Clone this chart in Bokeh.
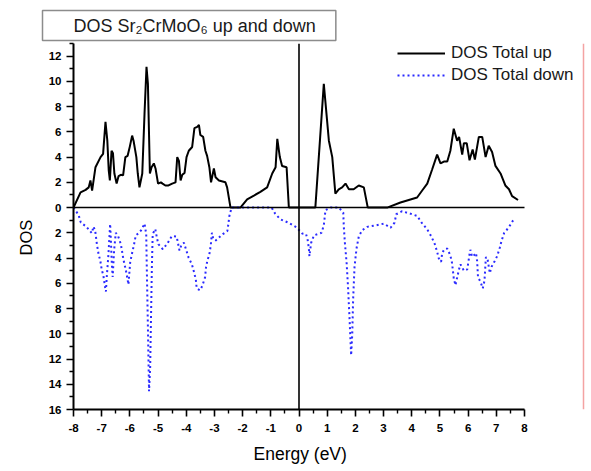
import math
from bokeh.plotting import figure
from bokeh.models import (Range1d, FixedTicker, Span, Title, Legend, LegendItem,
                          ColumnDataSource)
from bokeh.embed import file_html
from bokeh.resources import INLINE

# ---------------- data ----------------
up_energy = [-8.0, -7.75, -7.57, -7.46, -7.40, -7.34, -7.22, -7.04, -6.95, -6.865, -6.80, -6.75,
             -6.71, -6.65, -6.60, -6.55, -6.47, -6.40, -6.32, -6.24, -6.16, -6.08, -6.0, -5.92,
             -5.87, -5.77, -5.72, -5.66, -5.56, -5.48, -5.41, -5.36, -5.29, -5.23, -5.15, -5.09,
             -5.0, -4.9, -4.84, -4.74, -4.63, -4.50, -4.38, -4.32, -4.26, -4.20, -4.14, -4.06,
             -3.99, -3.91, -3.79, -3.71, -3.61, -3.55, -3.50, -3.40, -3.32, -3.26, -3.18, -3.12,
             -3.02, -2.96, -2.84, -2.61, -2.55, -2.43, -2.08, -1.84, -1.60, -1.37, -1.13, -0.95,
             -0.83, -0.77, -0.68, -0.60, -0.44, -0.36, 0.58, 0.88, 1.06, 1.18, 1.29, 1.41,
             1.53, 1.65, 1.77, 1.94, 2.12, 2.30, 2.44, 3.13, 3.60, 4.19, 4.37, 4.55, 4.72,
             4.90, 5.02, 5.14, 5.26, 5.37, 5.49, 5.61, 5.68, 5.79, 5.85, 5.95, 6.05, 6.16,
             6.24, 6.38, 6.50, 6.62, 6.73, 6.85, 6.97, 7.15, 7.32, 7.45, 7.56, 7.77]
up_dos = [0.0, 1.2, 1.4, 1.6, 2.15, 1.35, 3.2, 4.0, 4.25, 6.8, 5.3, 2.95,
          2.15, 4.5, 4.3, 2.7, 1.9, 2.5, 2.6, 2.55, 4.0, 4.1, 4.85, 5.7,
          5.3, 4.0, 2.7, 1.6, 2.7, 7.45, 11.15, 9.8, 2.7, 3.2, 3.5, 3.1,
          1.9, 2.0, 1.9, 1.75, 1.75, 1.9, 2.0, 4.0, 3.7, 2.15, 2.6, 2.75,
          4.0, 4.5, 4.8, 6.3, 6.4, 6.55, 5.75, 5.6, 4.5, 4.1, 3.2, 2.0,
          3.1, 2.4, 2.15, 2.0, 1.6, 0.0, 0.0, 0.65, 0.95, 1.25, 1.6, 2.7,
          3.2, 5.45, 4.0, 3.3, 3.2, 0.0, 0.0, 9.8, 5.3, 4.0, 1.1, 1.45,
          1.6, 1.9, 1.45, 1.45, 1.75, 1.6, 0.0, 0.0, 0.4, 0.8, 1.35, 1.9, 3.0,
          4.2, 3.5, 3.65, 3.65, 4.5, 6.25, 5.3, 5.6, 4.2, 5.1, 5.1, 3.75, 4.6,
          3.8, 5.6, 5.6, 4.0, 4.9, 4.4, 3.3, 2.7, 1.75, 1.45, 0.9, 0.6]

down_energy = [-8.0, -7.82, -7.74, -7.55, -7.35, -7.29, -7.23, -7.17, -7.11, -7.05, -7.0, -6.94,
               -6.88, -6.85, -6.82, -6.76, -6.70, -6.67, -6.64, -6.61, -6.56, -6.50, -6.42,
               -6.32, -6.23, -6.13, -6.05, -5.99, -5.93, -5.85, -5.79, -5.70, -5.60, -5.48,
               -5.42, -5.40, -5.36, -5.32, -5.28, -5.25, -5.22, -5.19, -5.10, -5.04, -4.99,
               -4.83, -4.67, -4.51, -4.34, -4.24, -4.16, -4.08, -3.92, -3.80, -3.72, -3.66,
               -3.63, -3.51, -3.43, -3.33, -3.30, -3.25, -3.18, -3.13, -3.09, -3.04, -2.95,
               -2.70, -2.54, -2.50, -2.47, -2.39, -0.97, -0.85, -0.67, -0.38, -0.08, 0.11,
               0.25, 0.31, 0.35, 0.37, 0.43, 0.53, 0.80, 0.88, 0.94, 1.12, 1.41, 1.57, 1.59,
               1.63, 1.69, 1.74, 1.79, 1.85, 1.89, 1.92, 1.97, 2.04, 2.12, 2.24, 2.42, 2.75,
               3.01, 3.25, 3.39, 3.45, 3.66, 3.93, 4.19, 4.35, 4.55, 4.69, 4.81, 4.90, 4.96,
               5.04, 5.08, 5.16, 5.26, 5.37, 5.43, 5.46, 5.49, 5.55, 5.61, 5.67, 5.73, 5.85,
               5.97, 6.05, 6.08, 6.14, 6.22, 6.28, 6.32, 6.35, 6.44, 6.52, 6.58, 6.63, 6.68,
               6.73, 6.77, 6.83, 6.93, 7.03, 7.12, 7.19, 7.28, 7.44, 7.60]
down_dos = [0.0, 0.58, 1.19, 1.5, 2.03, 1.5, 1.85, 2.9, 3.7, 4.2, 4.9, 5.4,
            6.3, 6.65, 5.5, 3.7, 1.3, 2.8, 4.5, 5.5, 3.4, 2.0, 2.25,
            2.9, 4.1, 5.1, 6.1, 4.35, 3.7, 2.9, 2.2, 2.05, 1.8, 1.27,
            2.1, 4.75, 9.5, 14.55, 12.65, 8.7, 4.75, 2.1, 1.7, 2.4, 2.9,
            3.3, 2.85, 2.25, 2.3, 3.4, 2.9, 2.8, 3.95, 4.5, 5.15, 5.7,
            6.4, 6.55, 6.2, 5.5, 4.75, 4.2, 3.7, 3.0, 2.0, 2.5, 2.6,
            2.1, 1.85, 1.2, 0.66, 0.0, 0.0, 0.47, 0.92, 1.19, 1.58, 2.05,
            2.1, 2.6, 3.25, 3.85, 2.8, 2.2, 2.0, 1.4, 0.2, 0.0, 0.0, 0.4, 1.53,
            2.85, 4.4, 6.3, 8.65, 11.7, 10.0, 7.3, 4.7, 3.25, 2.3, 1.8, 1.53, 1.4,
            1.27, 1.6, 1.19, 0.53, 0.29, 0.47, 0.66, 1.19, 1.74, 2.27, 2.85, 3.5, 4.03,
            4.3, 3.6, 3.3, 3.25, 3.8, 4.4, 5.0, 5.6, 6.15, 5.55, 4.95, 4.5, 5.0,
            4.9, 3.7, 3.35, 3.9, 3.75, 3.6, 4.25, 5.5, 5.9, 6.4, 5.8, 3.95, 3.95,
            4.65, 5.2, 4.7, 4.3, 3.85, 3.2, 2.6, 2.0, 1.58, 1.0]

x_ticks = list(range(-8, 9))
x_minor = [t + 0.5 for t in range(-8, 8)]
y_ticks = list(range(-16, 13, 2))
y_minor = list(range(-15, 14, 2))

title_text = "DOS Sr\u2082CrMoO\u2086 up and down"
y_title = "DOS"
x_title = "Energy (eV)"
series_names = ["DOS Total up", "DOS Total down"]

# ---------------- figure ----------------
FONT = "Liberation Sans"
F_LEFT, F_BOTTOM, F_TOP = 73, 409, 43
AX_RIGHT_PX = 524                       # where x = 8 sits
X_END = 8 + (591 - AX_RIGHT_PX) * 16 / (AX_RIGHT_PX - F_LEFT)

p = figure(width=591, height=471, output_backend="svg", toolbar_location=None,
           x_range=Range1d(-8, X_END), y_range=Range1d(-16, 13),
           min_border_left=F_LEFT, min_border_right=0, min_border_top=F_TOP,
           min_border_bottom=471 - F_BOTTOM)
p.outline_line_color = None
p.xgrid.visible = False
p.ygrid.visible = False
p.background_fill_color = "white"
p.border_fill_color = "white"

# title (box round the text)
p.title = Title(text=title_text, align="left", offset=-31, standoff=6,
                text_font=FONT, text_font_size="18px", text_font_style="normal",
                text_color="#1a1a1a", border_line_color="#8c8c8c", border_line_width=1.5,
                background_fill_color="white",
                padding=dict(left=31, right=20, top=5, bottom=5))

up_src = ColumnDataSource(dict(x=up_energy, y=up_dos))
down_src = ColumnDataSource(dict(x=down_energy, y=[-v for v in down_dos]))

r_up = p.line("x", "y", source=up_src, line_color="black", line_width=2)
r_down = p.line("x", "y", source=down_src, line_color="#2a2aff", line_width=2,
                line_dash="2 3")

# zero lines
p.line(x=[x_ticks[0], x_ticks[-1]], y=[0, 0], line_color="black", line_width=1.6)
p.add_layout(Span(location=0, dimension="height", line_color="black", line_width=1.6))
# pink page edge at the right
p.add_layout(Span(location=583 - F_LEFT, location_units="screen", dimension="height",
                  line_color="#f4a3a3", line_width=1.5))

for ax in (p.xaxis[0], p.yaxis[0]):
    ax.axis_line_width = 2
    ax.axis_line_color = "black"
    ax.major_tick_line_color = "black"
    ax.minor_tick_line_color = "black"
    ax.major_tick_line_width = 1.6
    ax.minor_tick_line_width = 1.4
    ax.major_tick_out = 7
    ax.major_tick_in = 0
    ax.minor_tick_out = 4
    ax.minor_tick_in = 0
    ax.major_label_text_font = FONT
    ax.major_label_text_font_style = "bold"
    ax.major_label_text_font_size = "11.5px"
    ax.major_label_text_color = "black"
    ax.major_label_standoff = 5
p.xaxis.major_label_standoff = 7

p.xaxis.bounds = (x_ticks[0], x_ticks[-1])
p.xaxis.ticker = FixedTicker(ticks=x_ticks, minor_ticks=x_minor)
p.yaxis.ticker = FixedTicker(ticks=y_ticks, minor_ticks=y_minor)
p.yaxis.major_label_overrides = {t: str(abs(t)) for t in y_ticks}
p.xaxis.major_label_overrides = {t: str(t) for t in x_ticks}

# axis titles as side titles (not clipped by the frame)
p.add_layout(Title(text=x_title, align="left", offset=180, standoff=15,
                   text_font=FONT, text_font_size="17.5px", text_font_style="normal",
                   text_color="black"), "below")
p.add_layout(Title(text=y_title, align="left", offset=154, standoff=21,
                   text_font=FONT, text_font_size="16.5px", text_font_style="normal",
                   text_color="black"), "left")

legend = Legend(items=[LegendItem(label=series_names[0], renderers=[r_up]),
                       LegendItem(label=series_names[1], renderers=[r_down])],
                location=(397 - F_LEFT, F_BOTTOM - 43 - 42),
                glyph_width=48, glyph_height=20, label_height=20, spacing=2,
                label_standoff=6, padding=0, margin=0,
                border_line_color=None, background_fill_alpha=0,
                label_text_font=FONT, label_text_font_size="17px",
                label_text_color="#1a1a1a")
p.add_layout(legend)

open("out.html", "w").write(file_html(p, INLINE))
